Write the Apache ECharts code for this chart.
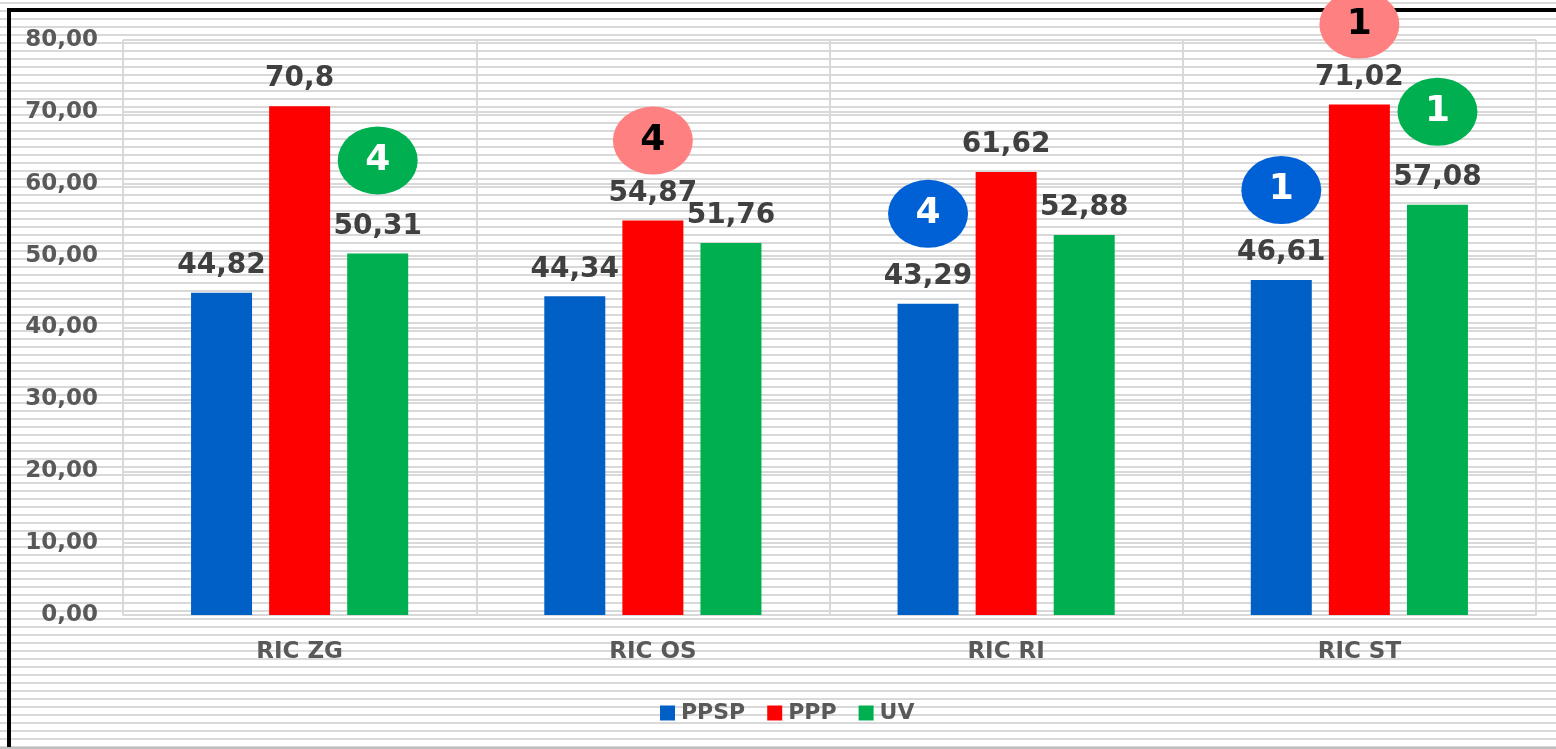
<!DOCTYPE html>
<html>
<head>
<meta charset="utf-8">
<script src="https://cdn.jsdelivr.net/npm/echarts@6/dist/echarts.min.js"></script>
<style>
html, body { margin: 0; padding: 0; }
#chart {
  width: 1556px;
  height: 749px;
  background: repeating-linear-gradient(to bottom, #fff 0, #fff 2px, #d9d9d9 2px, #d9d9d9 4px, #fff 4px, #fff 8px);
}
</style>
</head>
<body>
<div id="chart"></div>
<script>
var categories = ['RIC ZG', 'RIC OS', 'RIC RI', 'RIC ST'];
var ppsp = [44.82, 44.34, 43.29, 46.61];
var ppp = [70.8, 54.87, 61.62, 71.02];
var uv = [50.31, 51.76, 52.88, 57.08];
// rank badges shown above some bars
var ppspRank = [null, null, 4, 1];
var pppRank = [null, 4, null, 1];
var uvRank = [4, null, null, 1];

var FONT = 'DejaVu Sans';
var ellipse = 'path://M0 1A1 1 0 1 1 2 1A1 1 0 1 1 0 1Z';

function comma(v) {
  return String(v).replace('.', ',');
}

function badges(values, ranks, fill, textColor, dy) {
  var out = [];
  ranks.forEach(function (r, i) {
    if (r == null) return;
    out.push({
      coord: [i, values[i]],
      value: r,
      symbolOffset: [0, dy],
      itemStyle: { color: fill },
      label: { color: textColor }
    });
  });
  return {
    symbol: ellipse,
    symbolSize: [80, 68],
    silent: true,
    label: {
      show: true,
      position: 'inside',
      formatter: '{c}',
      fontFamily: FONT,
      fontWeight: 'bold',
      fontSize: 36
    },
    data: out
  };
}

function barSeries(name, values, color, mark) {
  return {
    name: name,
    type: 'bar',
    data: values,
    barWidth: 61,
    barGap: '28%',
    itemStyle: { color: color },
    label: {
      show: true,
      position: 'top',
      distance: 13,
      color: '#404040',
      fontFamily: FONT,
      fontWeight: 'bold',
      fontSize: 28,
      formatter: function (p) { return comma(p.value); }
    },
    markPoint: mark
  };
}

var chart = echarts.init(document.getElementById('chart'));
chart.setOption({
  animation: false,
  backgroundColor: 'transparent',
  grid: { left: 123, right: 20, top: 40, bottom: 134, containLabel: false },
  legend: {
    left: 655,
    top: 697,
    itemWidth: 15,
    itemHeight: 15,
    itemGap: 22,
    icon: 'rect',
    textStyle: { color: '#595959', fontFamily: FONT, fontWeight: 'bold', fontSize: 22, padding: [0, 0, 0, 1] },
    data: ['PPSP', 'PPP', 'UV']
  },
  xAxis: {
    type: 'category',
    data: categories,
    axisLine: { show: true, lineStyle: { color: '#d9d9d9', width: 2 } },
    axisTick: { show: false },
    splitLine: { show: true, interval: 0, lineStyle: { color: '#d9d9d9', width: 2 } },
    axisLabel: { margin: 26, color: '#595959', fontFamily: FONT, fontWeight: 'bold', fontSize: 23 }
  },
  yAxis: {
    type: 'value',
    min: 0,
    max: 80,
    interval: 10,
    axisLine: { show: false },
    axisTick: { show: false },
    splitLine: { lineStyle: { color: '#d9d9d9', width: 2 } },
    axisLabel: {
      margin: 25,
      color: '#595959',
      fontFamily: FONT,
      fontWeight: 'bold',
      fontSize: 23,
      formatter: function (v) { return v.toFixed(2).replace('.', ','); }
    }
  },
  graphic: [
    {
      type: 'polyline',
      silent: true,
      shape: { points: [[9, 749], [9, 10], [1556, 10]] },
      style: { stroke: '#000', lineWidth: 4, fill: null }
    },
    {
      type: 'line',
      silent: true,
      shape: { x1: 0, y1: 748, x2: 1556, y2: 748 },
      style: { stroke: '#bfbfbf', lineWidth: 2 }
    }
  ],
  series: [
    barSeries('PPSP', ppsp, '#0060c6', badges(ppsp, ppspRank, '#0060d6', '#fff', -90)),
    barSeries('PPP', ppp, '#ff0000', badges(ppp, pppRank, '#ff8080', '#000', -80)),
    barSeries('UV', uv, '#00b050', badges(uv, uvRank, '#00b050', '#fff', -93))
  ]
});
</script>
</body>
</html>
